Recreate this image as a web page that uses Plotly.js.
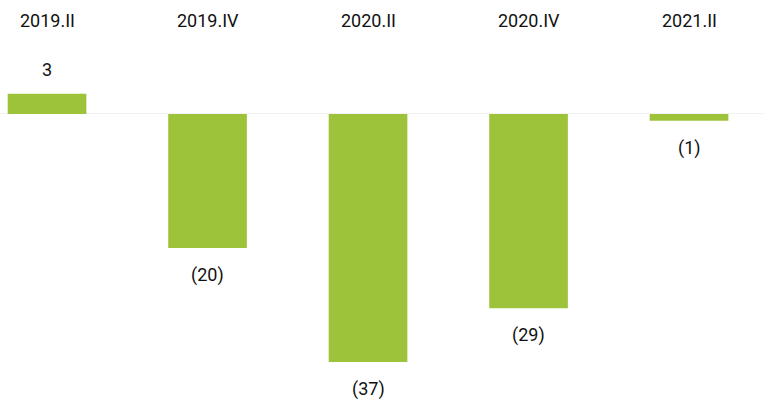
<!DOCTYPE html>
<html>
<head>
<meta charset="utf-8">
<script src="https://cdn.plot.ly/plotly-3.0.1.min.js"></script>
<style>html,body{margin:0;padding:0;background:#fff;}#chart{width:764px;height:409px;}</style>
</head>
<body>
<div id="chart"></div>
<script>
const categories = ["2019.II", "2019.IV", "2020.II", "2020.IV", "2021.II"];
const values = [3, -20, -37, -29, -1];
const valueLabels = ["3", "(20)", "(37)", "(29)", "(1)"];

const idx = categories.map((_, i) => i);
const font = {family: "Roboto, 'Noto Sans', sans-serif", size: 18, color: "#111111"};

const annotations = [];
categories.forEach((c, i) => {
  annotations.push({x: i, xref: 'x', y: 1, yref: 'paper', yanchor: 'middle', yshift: -20,
    text: c, showarrow: false, font: font});
  annotations.push({x: i, xref: 'x', y: values[i], yref: 'y', yanchor: 'middle',
    yshift: values[i] >= 0 ? 24 : -27, text: valueLabels[i], showarrow: false, font: font});
});

Plotly.newPlot('chart', [{
  type: 'bar', x: idx, y: values, width: 0.49,
  marker: {color: '#9dc33b', line: {width: 0}},
  hoverinfo: 'none'
}], {
  width: 764, height: 409,
  margin: {l: 0, r: 0, t: 0, b: 0},
  paper_bgcolor: '#fff', plot_bgcolor: '#fff',
  showlegend: false,
  xaxis: {range: [-0.293, 4.467], showgrid: false, zeroline: false, showticklabels: false, ticks: ''},
  yaxis: {range: [-44.03, 17.01], showgrid: false, zeroline: true, zerolinecolor: '#f2f2f2', zerolinewidth: 1, showticklabels: false, ticks: ''},
  annotations: annotations
}, {staticPlot: true});
</script>
</body>
</html>
